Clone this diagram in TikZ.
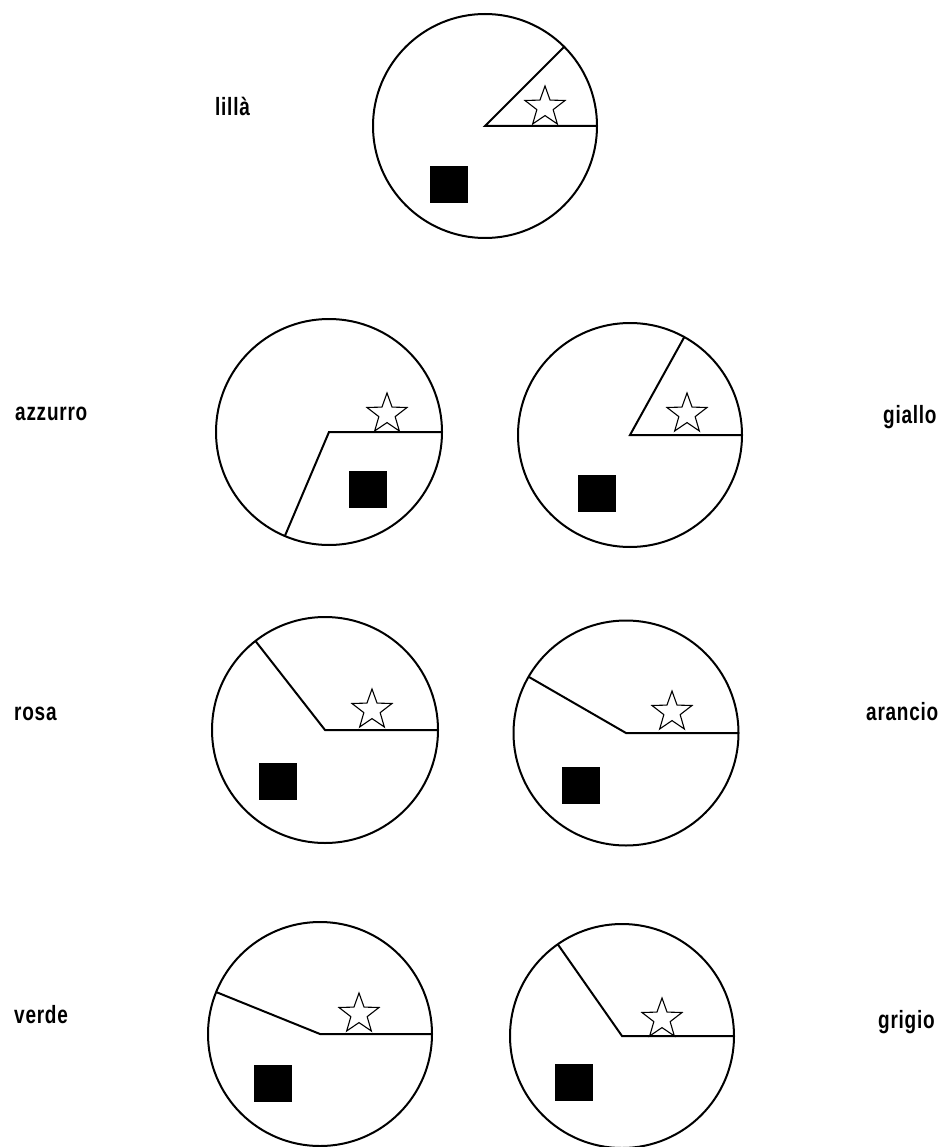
\documentclass[tikz,border=0pt]{standalone}
\usepackage{fontspec}
\setmainfont{Liberation Sans}[FakeStretch=0.76,LetterSpace=3]
\usetikzlibrary{shapes.geometric}
\begin{document}
\begin{tikzpicture}[x=1pt,y=-1pt,
  disc/.style={circle,draw,line width=2pt,inner sep=0pt,outer sep=0pt,minimum size=#1},
  pieline/.style={line width=2pt,line join=miter},
  starmark/.style={star,star points=5,star point ratio=2.45,draw,line width=1.1pt,fill=white,inner sep=0pt,minimum size=42pt},
  sqmark/.style={rectangle,fill=black,inner sep=0pt,minimum width=38pt,minimum height=37pt},
  lab/.style={font=\fontsize{25}{30}\selectfont\bfseries,inner sep=0pt,anchor=base west}
]
\fill[white] (0,0) rectangle (943,1147);
\useasboundingbox (0,0) rectangle (943,1147);

% lillà
\node[disc=224pt] (c1) at (485,126) {};
\draw[pieline] (c1.0) -- (c1.center) -- (c1.45);
\node[starmark] (s1) at (545,107) {};
\node[sqmark] (q1) at (449,184.5) {};
\node[lab] (l1) at (215,116) {lillà};

% azzurro
\node[disc=226pt] (c2) at (329,432) {};
\draw[pieline] (c2.0) -- (c2.center) -- (c2.247);
\node[starmark] (s2) at (387,414) {};
\node[sqmark] (q2) at (368,489.5) {};
\node[lab] (l2) at (15,420) {azzurro};

% giallo
\node[disc=224pt] (c3) at (630,435) {};
\draw[pieline] (c3.0) -- (c3.center) -- (c3.61);
\node[starmark] (s3) at (687,414) {};
\node[sqmark] (q3) at (597,493) {};
\node[lab] (l3) at (883,423) {giallo};

% rosa
\node[disc=226pt] (c4) at (325,730) {};
\draw[pieline] (c4.0) -- (c4.center) -- (c4.128);
\node[starmark] (s4) at (372,710) {};
\node[sqmark] (q4) at (277.5,781.5) {};
\node[lab] (l4) at (14,720) {rosa};

% arancio
\node[disc=225pt] (c5) at (626,733) {};
\draw[pieline] (c5.0) -- (c5.center) -- (c5.150);
\node[starmark] (s5) at (672,712) {};
\node[sqmark] (q5) at (580.5,785.5) {};
\node[lab] (l5) at (866,720) {arancio};

% verde
\node[disc=224pt] (c6) at (320,1034) {};
\draw[pieline] (c6.0) -- (c6.center) -- (c6.158);
\node[starmark] (s6) at (359,1014) {};
\node[sqmark] (q6) at (272.5,1083.5) {};
\node[lab] (l6) at (14,1023) {verde};

% grigio
\node[disc=224pt] (c7) at (622,1036) {};
\draw[pieline] (c7.0) -- (c7.center) -- (c7.125);
\node[starmark] (s7) at (662,1019) {};
\node[sqmark] (q7) at (573.5,1082.5) {};
\node[lab] (l7) at (878,1028) {grigio};
\end{tikzpicture}
\end{document}
